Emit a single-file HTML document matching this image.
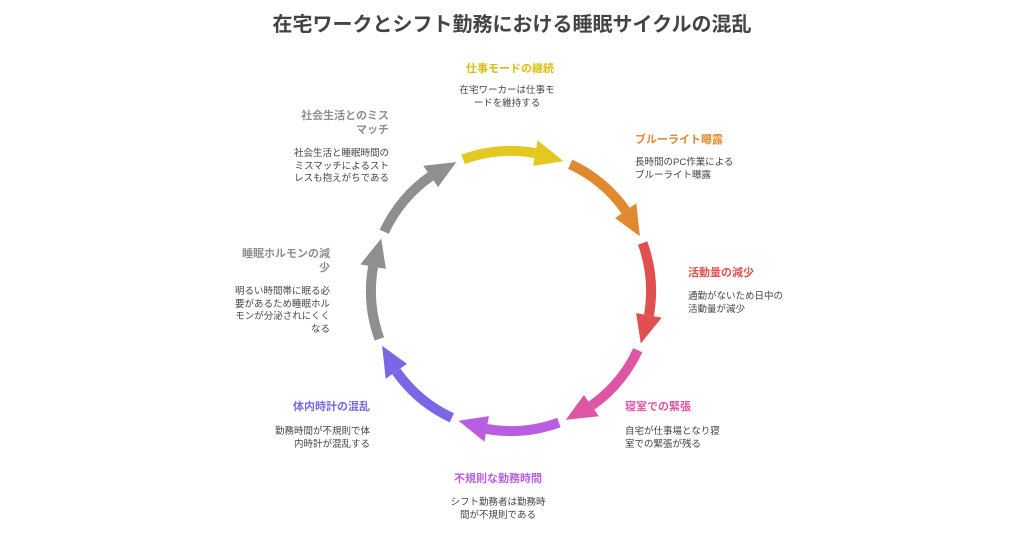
<!DOCTYPE html>
<html><head><meta charset="utf-8"><style>
html,body{margin:0;padding:0;background:#fff;}
body{width:1024px;height:536px;position:relative;overflow:hidden;font-family:"Liberation Sans","Noto Sans CJK JP",sans-serif;}
.t{position:absolute;font-weight:bold;font-size:11px;line-height:14px;white-space:nowrap;}
.b{position:absolute;font-size:9.5px;line-height:12.5px;color:#444;white-space:nowrap;}
.c{transform:translateX(-50%);text-align:center;}
.r{transform:translateX(-100%);text-align:right;}
</style></head><body>
<div style="position:absolute;left:0;width:1024px;top:8px;text-align:center;font-size:20px;font-weight:bold;color:#444;">在宅ワークとシフト勤務における睡眠サイクルの混乱</div>
<svg width="1024" height="536" style="position:absolute;left:0;top:0" fill="none" stroke-width="10">
<path d="M463.1,159.4 A140,140 0 0 1 535.4,153.1" stroke="#e3c820"/><polygon points="533.1,165.9 537.6,140.3 563.5,161.2" fill="#e3c820"/>
<path d="M570.2,164.2 A140,140 0 0 1 625.7,210.6" stroke="#e08a30"/><polygon points="615,218.1 636.3,203.2 639.9,236.3" fill="#e08a30"/>
<path d="M642.6,243.1 A140,140 0 0 1 648.9,315.4" stroke="#e05050"/><polygon points="636.1,313.1 661.7,317.6 640.8,343.5" fill="#e05050"/>
<path d="M637.8,350.2 A140,140 0 0 1 591.4,405.7" stroke="#df55a5"/><polygon points="583.9,395 598.8,416.3 565.7,419.9" fill="#df55a5"/>
<path d="M558.9,422.6 A140,140 0 0 1 486.6,428.9" stroke="#b95ee0"/><polygon points="488.9,416.1 484.4,441.7 458.5,420.8" fill="#b95ee0"/>
<path d="M451.8,417.8 A140,140 0 0 1 396.3,371.4" stroke="#7b66e6"/><polygon points="407,363.9 385.7,378.8 382.1,345.7" fill="#7b66e6"/>
<path d="M379.4,338.9 A140,140 0 0 1 373.1,266.6" stroke="#8f8f8f"/><polygon points="385.9,268.9 360.3,264.4 381.2,238.5" fill="#8f8f8f"/>
<path d="M384.2,231.8 A140,140 0 0 1 430.6,176.3" stroke="#8f8f8f"/><polygon points="438.1,187 423.2,165.7 456.3,162.1" fill="#8f8f8f"/>
</svg>
<div class="t c" style="left:510px;top:62px;color:#d9bf10">仕事モードの継続</div>
<div class="b c" style="left:507px;top:85px">在宅ワーカーは仕事モ<br>ードを維持する</div>
<div class="t" style="left:635px;top:133px;color:#e08a30">ブルーライト曝露</div>
<div class="b" style="left:635px;top:157px">長時間のPC作業による<br>ブルーライト曝露</div>
<div class="t" style="left:688px;top:266px;color:#e05050">活動量の減少</div>
<div class="b" style="left:688px;top:291px">通勤がないため日中の<br>活動量が減少</div>
<div class="t" style="left:625px;top:400px;color:#df55a5">寝室での緊張</div>
<div class="b" style="left:625px;top:426px">自宅が仕事場となり寝<br>室での緊張が残る</div>
<div class="t c" style="left:498px;top:472px;color:#b95ee0">不規則な勤務時間</div>
<div class="b c" style="left:498px;top:497px">シフト勤務者は勤務時<br>間が不規則である</div>
<div class="t r" style="left:370px;top:400px;color:#7b66e6">体内時計の混乱</div>
<div class="b r" style="left:370px;top:426px">勤務時間が不規則で体<br>内時計が混乱する</div>
<div class="t r" style="left:330px;top:247px;color:#8f8f8f">睡眠ホルモンの減<br>少</div>
<div class="b r" style="left:330px;top:286px">明るい時間帯に眠る必<br>要があるため睡眠ホル<br>モンが分泌されにくく<br>なる</div>
<div class="t r" style="left:389px;top:109px;color:#8f8f8f">社会生活とのミス<br>マッチ</div>
<div class="b r" style="left:389px;top:148px">社会生活と睡眠時間の<br>ミスマッチによるスト<br>レスも抱えがちである</div>
</body></html>
